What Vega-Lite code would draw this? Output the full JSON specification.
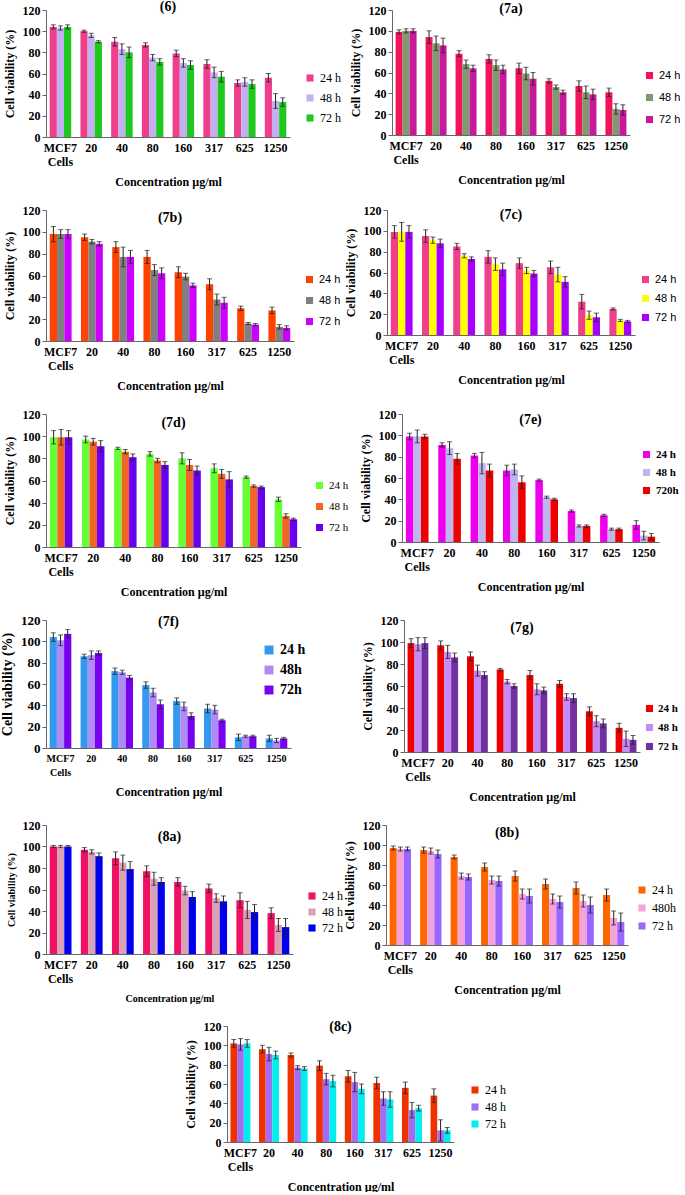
{
"$schema":"https://vega.github.io/schema/vega-lite/v6.json",
"background":"white",
"padding":{"left":0,"top":0,"right":0,"bottom":0},
"datasets":{
"p6":[
{"c":"MCF7","t":"24 h","v":104,"lo":102,"hi":106},{"c":"MCF7","t":"48 h","v":103,"lo":101,"hi":105},{"c":"MCF7","t":"72 h","v":104,"lo":102,"hi":106},
{"c":"20","t":"24 h","v":100,"lo":99,"hi":101},{"c":"20","t":"48 h","v":96,"lo":94,"hi":98},{"c":"20","t":"72 h","v":90,"lo":89,"hi":91},
{"c":"40","t":"24 h","v":90,"lo":86,"hi":94},{"c":"40","t":"48 h","v":83,"lo":78,"hi":88},{"c":"40","t":"72 h","v":80,"lo":75,"hi":85},
{"c":"80","t":"24 h","v":87,"lo":85,"hi":89},{"c":"80","t":"48 h","v":75,"lo":72,"hi":78},{"c":"80","t":"72 h","v":71,"lo":68,"hi":74},
{"c":"160","t":"24 h","v":79,"lo":76,"hi":82},{"c":"160","t":"48 h","v":70,"lo":66,"hi":74},{"c":"160","t":"72 h","v":68,"lo":64,"hi":72},
{"c":"317","t":"24 h","v":69,"lo":65,"hi":73},{"c":"317","t":"48 h","v":61,"lo":56,"hi":66},{"c":"317","t":"72 h","v":57,"lo":52,"hi":62},
{"c":"625","t":"24 h","v":51,"lo":48,"hi":54},{"c":"625","t":"48 h","v":52,"lo":48,"hi":56},{"c":"625","t":"72 h","v":50,"lo":46,"hi":54},
{"c":"1250","t":"24 h","v":56,"lo":52,"hi":60},{"c":"1250","t":"48 h","v":34,"lo":27,"hi":41},{"c":"1250","t":"72 h","v":33,"lo":29,"hi":37}],
"p7a":[
{"c":"MCF7","t":"24 h","v":99,"lo":97,"hi":101},{"c":"MCF7","t":"48 h","v":100,"lo":98,"hi":102},{"c":"MCF7","t":"72 h","v":100,"lo":98,"hi":102},
{"c":"20","t":"24 h","v":94,"lo":88,"hi":100},{"c":"20","t":"48 h","v":88,"lo":81,"hi":95},{"c":"20","t":"72 h","v":86,"lo":79,"hi":93},
{"c":"40","t":"24 h","v":78,"lo":75,"hi":81},{"c":"40","t":"48 h","v":68,"lo":64,"hi":72},{"c":"40","t":"72 h","v":64,"lo":61,"hi":67},
{"c":"80","t":"24 h","v":73,"lo":69,"hi":77},{"c":"80","t":"48 h","v":67,"lo":62,"hi":72},{"c":"80","t":"72 h","v":63,"lo":59,"hi":67},
{"c":"160","t":"24 h","v":64,"lo":59,"hi":69},{"c":"160","t":"48 h","v":59,"lo":53,"hi":65},{"c":"160","t":"72 h","v":54,"lo":48,"hi":60},
{"c":"317","t":"24 h","v":52,"lo":50,"hi":54},{"c":"317","t":"48 h","v":46,"lo":44,"hi":48},{"c":"317","t":"72 h","v":41,"lo":39,"hi":43},
{"c":"625","t":"24 h","v":47,"lo":42,"hi":52},{"c":"625","t":"48 h","v":41,"lo":35,"hi":47},{"c":"625","t":"72 h","v":39,"lo":34,"hi":44},
{"c":"1250","t":"24 h","v":41,"lo":37,"hi":45},{"c":"1250","t":"48 h","v":25,"lo":20,"hi":30},{"c":"1250","t":"72 h","v":24,"lo":19,"hi":29}],
"p7b":[
{"c":"MCF7","t":"24 h","v":98,"lo":91,"hi":105},{"c":"MCF7","t":"48 h","v":98,"lo":94,"hi":102},{"c":"MCF7","t":"72 h","v":98,"lo":94,"hi":102},
{"c":"20","t":"24 h","v":95,"lo":92,"hi":98},{"c":"20","t":"48 h","v":91,"lo":89,"hi":93},{"c":"20","t":"72 h","v":89,"lo":87,"hi":91},
{"c":"40","t":"24 h","v":86,"lo":81,"hi":91},{"c":"40","t":"48 h","v":77,"lo":68,"hi":86},{"c":"40","t":"72 h","v":77,"lo":71,"hi":83},
{"c":"80","t":"24 h","v":77,"lo":71,"hi":83},{"c":"80","t":"48 h","v":65,"lo":60,"hi":70},{"c":"80","t":"72 h","v":62,"lo":57,"hi":67},
{"c":"160","t":"24 h","v":63,"lo":58,"hi":68},{"c":"160","t":"48 h","v":59,"lo":56,"hi":62},{"c":"160","t":"72 h","v":51,"lo":49,"hi":53},
{"c":"317","t":"24 h","v":52,"lo":47,"hi":57},{"c":"317","t":"48 h","v":38,"lo":33,"hi":43},{"c":"317","t":"72 h","v":35,"lo":30,"hi":40},
{"c":"625","t":"24 h","v":30,"lo":28,"hi":32},{"c":"625","t":"48 h","v":16,"lo":15,"hi":17},{"c":"625","t":"72 h","v":15,"lo":14,"hi":16},
{"c":"1250","t":"24 h","v":28,"lo":25,"hi":31},{"c":"1250","t":"48 h","v":13,"lo":11,"hi":15},{"c":"1250","t":"72 h","v":12,"lo":10,"hi":14}],
"p7c":[
{"c":"MCF7","t":"24 h","v":99,"lo":93,"hi":105},{"c":"MCF7","t":"48 h","v":99,"lo":90,"hi":108},{"c":"MCF7","t":"72 h","v":99,"lo":93,"hi":105},
{"c":"20","t":"24 h","v":95,"lo":89,"hi":101},{"c":"20","t":"48 h","v":91,"lo":88,"hi":94},{"c":"20","t":"72 h","v":88,"lo":84,"hi":92},
{"c":"40","t":"24 h","v":85,"lo":82,"hi":88},{"c":"40","t":"48 h","v":76,"lo":74,"hi":78},{"c":"40","t":"72 h","v":73,"lo":71,"hi":75},
{"c":"80","t":"24 h","v":75,"lo":69,"hi":81},{"c":"80","t":"48 h","v":68,"lo":62,"hi":74},{"c":"80","t":"72 h","v":63,"lo":57,"hi":69},
{"c":"160","t":"24 h","v":69,"lo":64,"hi":74},{"c":"160","t":"48 h","v":62,"lo":59,"hi":65},{"c":"160","t":"72 h","v":59,"lo":56,"hi":62},
{"c":"317","t":"24 h","v":65,"lo":59,"hi":71},{"c":"317","t":"48 h","v":58,"lo":51,"hi":65},{"c":"317","t":"72 h","v":51,"lo":46,"hi":56},
{"c":"625","t":"24 h","v":32,"lo":25,"hi":39},{"c":"625","t":"48 h","v":19,"lo":15,"hi":23},{"c":"625","t":"72 h","v":17,"lo":13,"hi":21},
{"c":"1250","t":"24 h","v":25,"lo":24,"hi":26},{"c":"1250","t":"48 h","v":14,"lo":13,"hi":15},{"c":"1250","t":"72 h","v":13,"lo":12,"hi":14}],
"p7d":[
{"c":"MCF7","t":"24 h","v":99,"lo":93,"hi":105},{"c":"MCF7","t":"48 h","v":99,"lo":92,"hi":106},{"c":"MCF7","t":"72 h","v":99,"lo":93,"hi":105},
{"c":"20","t":"24 h","v":97,"lo":94,"hi":100},{"c":"20","t":"48 h","v":95,"lo":92,"hi":98},{"c":"20","t":"72 h","v":91,"lo":86,"hi":96},
{"c":"40","t":"24 h","v":89,"lo":88,"hi":90},{"c":"40","t":"48 h","v":86,"lo":84,"hi":88},{"c":"40","t":"72 h","v":81,"lo":78,"hi":84},
{"c":"80","t":"24 h","v":84,"lo":82,"hi":86},{"c":"80","t":"48 h","v":78,"lo":76,"hi":80},{"c":"80","t":"72 h","v":74,"lo":71,"hi":77},
{"c":"160","t":"24 h","v":80,"lo":75,"hi":85},{"c":"160","t":"48 h","v":74,"lo":69,"hi":79},{"c":"160","t":"72 h","v":69,"lo":65,"hi":73},
{"c":"317","t":"24 h","v":71,"lo":67,"hi":75},{"c":"317","t":"48 h","v":66,"lo":62,"hi":70},{"c":"317","t":"72 h","v":61,"lo":54,"hi":68},
{"c":"625","t":"24 h","v":63,"lo":62,"hi":64},{"c":"625","t":"48 h","v":55,"lo":54,"hi":56},{"c":"625","t":"72 h","v":54,"lo":53,"hi":55},
{"c":"1250","t":"24 h","v":43,"lo":41,"hi":45},{"c":"1250","t":"48 h","v":28,"lo":26,"hi":30},{"c":"1250","t":"72 h","v":25,"lo":24,"hi":26}],
"p7e":[
{"c":"MCF7","t":"24 h","v":99,"lo":96,"hi":102},{"c":"MCF7","t":"48 h","v":99,"lo":93,"hi":105},{"c":"MCF7","t":"720h","v":99,"lo":97,"hi":101},
{"c":"20","t":"24 h","v":91,"lo":89,"hi":93},{"c":"20","t":"48 h","v":88,"lo":82,"hi":94},{"c":"20","t":"720h","v":78,"lo":73,"hi":83},
{"c":"40","t":"24 h","v":81,"lo":79,"hi":83},{"c":"40","t":"48 h","v":74,"lo":64,"hi":84},{"c":"40","t":"720h","v":67,"lo":61,"hi":73},
{"c":"80","t":"24 h","v":67,"lo":62,"hi":72},{"c":"80","t":"48 h","v":68,"lo":63,"hi":73},{"c":"80","t":"720h","v":56,"lo":50,"hi":62},
{"c":"160","t":"24 h","v":58,"lo":57,"hi":59},{"c":"160","t":"48 h","v":42,"lo":41,"hi":43},{"c":"160","t":"720h","v":40,"lo":39,"hi":41},
{"c":"317","t":"24 h","v":29,"lo":28,"hi":30},{"c":"317","t":"48 h","v":15,"lo":14,"hi":16},{"c":"317","t":"720h","v":15,"lo":14,"hi":16},
{"c":"625","t":"24 h","v":25,"lo":24,"hi":26},{"c":"625","t":"48 h","v":12,"lo":11,"hi":13},{"c":"625","t":"720h","v":12,"lo":11,"hi":13},
{"c":"1250","t":"24 h","v":16,"lo":12,"hi":20},{"c":"1250","t":"48 h","v":6,"lo":2,"hi":10},{"c":"1250","t":"720h","v":5,"lo":2,"hi":8}],
"p7f":[
{"c":"MCF7","t":"24 h","v":104,"lo":100,"hi":108},{"c":"MCF7","t":"48h","v":101,"lo":96,"hi":106},{"c":"MCF7","t":"72h","v":107,"lo":103,"hi":111},
{"c":"20","t":"24 h","v":86,"lo":84,"hi":88},{"c":"20","t":"48h","v":87,"lo":83,"hi":91},{"c":"20","t":"72h","v":89,"lo":87,"hi":91},
{"c":"40","t":"24 h","v":72,"lo":69,"hi":75},{"c":"40","t":"48h","v":71,"lo":69,"hi":73},{"c":"40","t":"72h","v":66,"lo":64,"hi":68},
{"c":"80","t":"24 h","v":59,"lo":56,"hi":62},{"c":"80","t":"48h","v":52,"lo":48,"hi":56},{"c":"80","t":"72h","v":41,"lo":37,"hi":45},
{"c":"160","t":"24 h","v":44,"lo":41,"hi":47},{"c":"160","t":"48h","v":39,"lo":35,"hi":43},{"c":"160","t":"72h","v":30,"lo":27,"hi":33},
{"c":"317","t":"24 h","v":37,"lo":33,"hi":41},{"c":"317","t":"48h","v":36,"lo":32,"hi":40},{"c":"317","t":"72h","v":26,"lo":25,"hi":27},
{"c":"625","t":"24 h","v":10,"lo":7,"hi":13},{"c":"625","t":"48h","v":11,"lo":10,"hi":12},{"c":"625","t":"72h","v":11,"lo":10,"hi":12},
{"c":"1250","t":"24 h","v":9,"lo":6,"hi":12},{"c":"1250","t":"48h","v":7,"lo":5,"hi":9},{"c":"1250","t":"72h","v":9,"lo":8,"hi":10}],
"p7g":[
{"c":"MCF7","t":"24 h","v":99,"lo":95,"hi":103},{"c":"MCF7","t":"48 h","v":98,"lo":92,"hi":104},{"c":"MCF7","t":"72 h","v":99,"lo":94,"hi":104},
{"c":"20","t":"24 h","v":97,"lo":93,"hi":101},{"c":"20","t":"48 h","v":91,"lo":85,"hi":97},{"c":"20","t":"72 h","v":86,"lo":82,"hi":90},
{"c":"40","t":"24 h","v":87,"lo":83,"hi":91},{"c":"40","t":"48 h","v":74,"lo":69,"hi":79},{"c":"40","t":"72 h","v":70,"lo":67,"hi":73},
{"c":"80","t":"24 h","v":75,"lo":74,"hi":76},{"c":"80","t":"48 h","v":64,"lo":62,"hi":66},{"c":"80","t":"72 h","v":60,"lo":58,"hi":62},
{"c":"160","t":"24 h","v":70,"lo":66,"hi":74},{"c":"160","t":"48 h","v":57,"lo":52,"hi":62},{"c":"160","t":"72 h","v":56,"lo":53,"hi":59},
{"c":"317","t":"24 h","v":62,"lo":59,"hi":65},{"c":"317","t":"48 h","v":50,"lo":47,"hi":53},{"c":"317","t":"72 h","v":49,"lo":45,"hi":53},
{"c":"625","t":"24 h","v":37,"lo":33,"hi":41},{"c":"625","t":"48 h","v":28,"lo":23,"hi":33},{"c":"625","t":"72 h","v":26,"lo":22,"hi":30},
{"c":"1250","t":"24 h","v":22,"lo":18,"hi":26},{"c":"1250","t":"48 h","v":12,"lo":5,"hi":19},{"c":"1250","t":"72 h","v":11,"lo":7,"hi":15}],
"p8a":[
{"c":"MCF7","t":"24 h","v":100,"lo":99,"hi":101},{"c":"MCF7","t":"48 h","v":100,"lo":99,"hi":101},{"c":"MCF7","t":"72 h","v":100,"lo":99,"hi":101},
{"c":"20","t":"24 h","v":97,"lo":95,"hi":99},{"c":"20","t":"48 h","v":95,"lo":93,"hi":97},{"c":"20","t":"72 h","v":91,"lo":88,"hi":94},
{"c":"40","t":"24 h","v":89,"lo":83,"hi":95},{"c":"40","t":"48 h","v":85,"lo":78,"hi":92},{"c":"40","t":"72 h","v":79,"lo":72,"hi":86},
{"c":"80","t":"24 h","v":77,"lo":72,"hi":82},{"c":"80","t":"48 h","v":70,"lo":64,"hi":76},{"c":"80","t":"72 h","v":67,"lo":63,"hi":71},
{"c":"160","t":"24 h","v":67,"lo":63,"hi":71},{"c":"160","t":"48 h","v":59,"lo":55,"hi":63},{"c":"160","t":"72 h","v":53,"lo":48,"hi":58},
{"c":"317","t":"24 h","v":61,"lo":57,"hi":65},{"c":"317","t":"48 h","v":52,"lo":48,"hi":56},{"c":"317","t":"72 h","v":49,"lo":44,"hi":54},
{"c":"625","t":"24 h","v":50,"lo":43,"hi":57},{"c":"625","t":"48 h","v":41,"lo":33,"hi":49},{"c":"625","t":"72 h","v":39,"lo":32,"hi":46},
{"c":"1250","t":"24 h","v":38,"lo":33,"hi":43},{"c":"1250","t":"48 h","v":27,"lo":21,"hi":33},{"c":"1250","t":"72 h","v":25,"lo":17,"hi":33}],
"p8b":[
{"c":"MCF7","t":"24 h","v":97,"lo":95,"hi":99},{"c":"MCF7","t":"480h","v":96,"lo":94,"hi":98},{"c":"MCF7","t":"72 h","v":96,"lo":94,"hi":98},
{"c":"20","t":"24 h","v":95,"lo":92,"hi":98},{"c":"20","t":"480h","v":94,"lo":91,"hi":97},{"c":"20","t":"72 h","v":91,"lo":87,"hi":95},
{"c":"40","t":"24 h","v":88,"lo":86,"hi":90},{"c":"40","t":"480h","v":69,"lo":66,"hi":72},{"c":"40","t":"72 h","v":68,"lo":65,"hi":71},
{"c":"80","t":"24 h","v":78,"lo":74,"hi":82},{"c":"80","t":"480h","v":65,"lo":61,"hi":69},{"c":"80","t":"72 h","v":64,"lo":59,"hi":69},
{"c":"160","t":"24 h","v":69,"lo":64,"hi":74},{"c":"160","t":"480h","v":51,"lo":46,"hi":56},{"c":"160","t":"72 h","v":49,"lo":42,"hi":56},
{"c":"317","t":"24 h","v":61,"lo":56,"hi":66},{"c":"317","t":"480h","v":46,"lo":41,"hi":51},{"c":"317","t":"72 h","v":43,"lo":37,"hi":49},
{"c":"625","t":"24 h","v":57,"lo":51,"hi":63},{"c":"625","t":"480h","v":44,"lo":38,"hi":50},{"c":"625","t":"72 h","v":40,"lo":32,"hi":48},
{"c":"1250","t":"24 h","v":50,"lo":44,"hi":56},{"c":"1250","t":"480h","v":27,"lo":20,"hi":34},{"c":"1250","t":"72 h","v":23,"lo":14,"hi":32}],
"p8c":[
{"c":"MCF7","t":"24 h","v":102,"lo":98,"hi":106},{"c":"MCF7","t":"48 h","v":101,"lo":95,"hi":107},{"c":"MCF7","t":"72 h","v":102,"lo":98,"hi":106},
{"c":"20","t":"24 h","v":96,"lo":92,"hi":100},{"c":"20","t":"48 h","v":91,"lo":84,"hi":98},{"c":"20","t":"72 h","v":90,"lo":86,"hi":94},
{"c":"40","t":"24 h","v":90,"lo":88,"hi":92},{"c":"40","t":"48 h","v":77,"lo":75,"hi":79},{"c":"40","t":"72 h","v":76,"lo":74,"hi":78},
{"c":"80","t":"24 h","v":79,"lo":74,"hi":84},{"c":"80","t":"48 h","v":65,"lo":59,"hi":71},{"c":"80","t":"72 h","v":63,"lo":57,"hi":69},
{"c":"160","t":"24 h","v":68,"lo":62,"hi":74},{"c":"160","t":"48 h","v":62,"lo":52,"hi":72},{"c":"160","t":"72 h","v":55,"lo":50,"hi":60},
{"c":"317","t":"24 h","v":61,"lo":55,"hi":67},{"c":"317","t":"48 h","v":45,"lo":38,"hi":52},{"c":"317","t":"72 h","v":44,"lo":36,"hi":52},
{"c":"625","t":"24 h","v":56,"lo":50,"hi":62},{"c":"625","t":"48 h","v":33,"lo":25,"hi":41},{"c":"625","t":"72 h","v":35,"lo":32,"hi":38},
{"c":"1250","t":"24 h","v":48,"lo":41,"hi":55},{"c":"1250","t":"48 h","v":12,"lo":1,"hi":23},{"c":"1250","t":"72 h","v":12,"lo":9,"hi":15}]
},
"vconcat":[
{"hconcat":[
{"data":{"name":"p6"},"width":244,"height":127,"title":{"text":"(6)","offset":-10},
"encoding":{"x":{"field":"c","type":"nominal","sort":["MCF7","20","40","80","160","317","625","1250"],"title":"Concentration µg/ml","scale":{"paddingInner":0.3,"paddingOuter":0.12},"axis":{"labelExpr":"datum.value == 'MCF7' ? ['MCF7','Cells'] : datum.value"}},"xOffset":{"field":"t","type":"nominal"}},
"layer":[
{"mark":"bar","encoding":{"y":{"field":"v","type":"quantitative","title":"Cell viability  (%)","scale":{"domain":[0,120]}},"color":{"field":"t","type":"nominal","scale":{"domain":["24 h","48 h","72 h"],"range":["#ee3f8c","#c2b0f0","#1ec81e"]},"legend":{"orient":"none","legendX":258,"legendY":62,"labelFont":"Liberation Serif","labelFontSize":12,"rowPadding":8}}}},
{"mark":{"type":"rule","color":"#222","strokeWidth":1},"encoding":{"y":{"field":"lo","type":"quantitative","title":"Cell viability  (%)"},"y2":{"field":"hi"}}},
{"mark":{"type":"tick","color":"#222","size":5,"thickness":1},"encoding":{"y":{"field":"lo","type":"quantitative","title":"Cell viability  (%)"}}},
{"mark":{"type":"tick","color":"#222","size":5,"thickness":1},"encoding":{"y":{"field":"hi","type":"quantitative","title":"Cell viability  (%)"}}}]},
{"data":{"name":"p7a"},"width":238,"height":125,"title":{"text":"(7a)","offset":-12},
"encoding":{"x":{"field":"c","type":"nominal","sort":["MCF7","20","40","80","160","317","625","1250"],"title":"Concentration µg/ml","scale":{"paddingInner":0.3,"paddingOuter":0.12},"axis":{"labelExpr":"datum.value == 'MCF7' ? ['MCF7','Cells'] : datum.value"}},"xOffset":{"field":"t","type":"nominal"}},
"layer":[
{"mark":"bar","encoding":{"y":{"field":"v","type":"quantitative","title":"Cell viability  (%)","scale":{"domain":[0,120]}},"color":{"field":"t","type":"nominal","scale":{"domain":["24 h","48 h","72 h"],"range":["#f0145a","#7f9a70","#c8189c"]},"legend":{"orient":"none","legendX":252,"legendY":60,"labelFont":"Liberation Sans","labelFontSize":11,"rowPadding":10}}}},
{"mark":{"type":"rule","color":"#222","strokeWidth":1},"encoding":{"y":{"field":"lo","type":"quantitative","title":"Cell viability  (%)"},"y2":{"field":"hi"}}},
{"mark":{"type":"tick","color":"#222","size":5,"thickness":1},"encoding":{"y":{"field":"lo","type":"quantitative","title":"Cell viability  (%)"}}},
{"mark":{"type":"tick","color":"#222","size":5,"thickness":1},"encoding":{"y":{"field":"hi","type":"quantitative","title":"Cell viability  (%)"}}}]}
],"spacing":8,"resolve":{"scale":{"color":"independent","x":"independent","y":"independent","xOffset":"independent"}}},
{"hconcat":[
{"data":{"name":"p7b"},"width":248,"height":131,"title":{"text":"(7b)","offset":-21},
"encoding":{"x":{"field":"c","type":"nominal","sort":["MCF7","20","40","80","160","317","625","1250"],"title":"Concentration µg/ml","scale":{"paddingInner":0.3,"paddingOuter":0.12},"axis":{"labelExpr":"datum.value == 'MCF7' ? ['MCF7','Cells'] : datum.value"}},"xOffset":{"field":"t","type":"nominal"}},
"layer":[
{"mark":"bar","encoding":{"y":{"field":"v","type":"quantitative","title":"Cell viability  (%)","scale":{"domain":[0,120]}},"color":{"field":"t","type":"nominal","scale":{"domain":["24 h","48 h","72 h"],"range":["#ff4200","#808080","#cc00ff"]},"legend":{"orient":"none","legendX":258,"legendY":64,"labelFont":"Liberation Sans","labelFontSize":11,"rowPadding":9}}}},
{"mark":{"type":"rule","color":"#222","strokeWidth":1},"encoding":{"y":{"field":"lo","type":"quantitative","title":"Cell viability  (%)"},"y2":{"field":"hi"}}},
{"mark":{"type":"tick","color":"#222","size":5,"thickness":1},"encoding":{"y":{"field":"lo","type":"quantitative","title":"Cell viability  (%)"}}},
{"mark":{"type":"tick","color":"#222","size":5,"thickness":1},"encoding":{"y":{"field":"hi","type":"quantitative","title":"Cell viability  (%)"}}}]},
{"data":{"name":"p7c"},"width":248,"height":125,"title":{"text":"(7c)","offset":-18},
"encoding":{"x":{"field":"c","type":"nominal","sort":["MCF7","20","40","80","160","317","625","1250"],"title":"Concentration µg/ml","scale":{"paddingInner":0.3,"paddingOuter":0.12},"axis":{"labelExpr":"datum.value == 'MCF7' ? ['MCF7','Cells'] : datum.value"}},"xOffset":{"field":"t","type":"nominal"}},
"layer":[
{"mark":"bar","encoding":{"y":{"field":"v","type":"quantitative","title":"Cell viability  (%)","scale":{"domain":[0,120]}},"color":{"field":"t","type":"nominal","scale":{"domain":["24 h","48 h","72 h"],"range":["#f0408c","#ffff00","#a800ff"]},"legend":{"orient":"none","legendX":253,"legendY":64,"labelFont":"Liberation Sans","labelFontSize":11,"rowPadding":7}}}},
{"mark":{"type":"rule","color":"#222","strokeWidth":1},"encoding":{"y":{"field":"lo","type":"quantitative","title":"Cell viability  (%)"},"y2":{"field":"hi"}}},
{"mark":{"type":"tick","color":"#222","size":5,"thickness":1},"encoding":{"y":{"field":"lo","type":"quantitative","title":"Cell viability  (%)"}}},
{"mark":{"type":"tick","color":"#222","size":5,"thickness":1},"encoding":{"y":{"field":"hi","type":"quantitative","title":"Cell viability  (%)"}}}]}
],"spacing":3,"resolve":{"scale":{"color":"independent","x":"independent","y":"independent","xOffset":"independent"}}},
{"hconcat":[
{"data":{"name":"p7d"},"width":255,"height":133,"title":{"text":"(7d)","offset":-22},
"encoding":{"x":{"field":"c","type":"nominal","sort":["MCF7","20","40","80","160","317","625","1250"],"title":"Concentration µg/ml","scale":{"paddingInner":0.3,"paddingOuter":0.12},"axis":{"labelExpr":"datum.value == 'MCF7' ? ['MCF7','Cells'] : datum.value"}},"xOffset":{"field":"t","type":"nominal"}},
"layer":[
{"mark":"bar","encoding":{"y":{"field":"v","type":"quantitative","title":"Cell viability  (%)","scale":{"domain":[0,120]}},"color":{"field":"t","type":"nominal","scale":{"domain":["24 h","48 h","72 h"],"range":["#66ff33","#f26524","#6600ee"]},"legend":{"orient":"none","legendX":268,"legendY":66,"labelFont":"Liberation Serif","labelFontSize":11,"rowPadding":9}}}},
{"mark":{"type":"rule","color":"#222","strokeWidth":1},"encoding":{"y":{"field":"lo","type":"quantitative","title":"Cell viability  (%)"},"y2":{"field":"hi"}}},
{"mark":{"type":"tick","color":"#222","size":5,"thickness":1},"encoding":{"y":{"field":"lo","type":"quantitative","title":"Cell viability  (%)"}}},
{"mark":{"type":"tick","color":"#222","size":5,"thickness":1},"encoding":{"y":{"field":"hi","type":"quantitative","title":"Cell viability  (%)"}}}]},
{"data":{"name":"p7e"},"width":257,"height":128,"title":{"text":"(7e)","offset":-19},
"encoding":{"x":{"field":"c","type":"nominal","sort":["MCF7","20","40","80","160","317","625","1250"],"title":"Concentration µg/ml","scale":{"paddingInner":0.3,"paddingOuter":0.12},"axis":{"labelExpr":"datum.value == 'MCF7' ? ['MCF7','Cells'] : datum.value"}},"xOffset":{"field":"t","type":"nominal"}},
"layer":[
{"mark":"bar","encoding":{"y":{"field":"v","type":"quantitative","title":"Cell viability  (%)","scale":{"domain":[0,120]}},"color":{"field":"t","type":"nominal","scale":{"domain":["24 h","48 h","720h"],"range":["#ee00ee","#c0b6ef","#ee0000"]},"legend":{"orient":"none","legendX":239,"legendY":35,"labelFont":"Liberation Serif","labelFontSize":11,"labelFontWeight":"bold","rowPadding":6}}}},
{"mark":{"type":"rule","color":"#222","strokeWidth":1},"encoding":{"y":{"field":"lo","type":"quantitative","title":"Cell viability  (%)"},"y2":{"field":"hi"}}},
{"mark":{"type":"tick","color":"#222","size":5,"thickness":1},"encoding":{"y":{"field":"lo","type":"quantitative","title":"Cell viability  (%)"}}},
{"mark":{"type":"tick","color":"#222","size":5,"thickness":1},"encoding":{"y":{"field":"hi","type":"quantitative","title":"Cell viability  (%)"}}}]}
],"spacing":10,"resolve":{"scale":{"color":"independent","x":"independent","y":"independent","xOffset":"independent"}}},
{"hconcat":[
{"data":{"name":"p7f"},"width":245,"height":128,"title":{"text":"(7f)","offset":-15},
"encoding":{"x":{"field":"c","type":"nominal","sort":["MCF7","20","40","80","160","317","625","1250"],"title":"Concentration µg/ml","scale":{"paddingInner":0.3,"paddingOuter":0.12},"axis":{"labelFontSize":10,"labelExpr":"datum.value == 'MCF7' ? ['MCF7','Cells'] : datum.value"}},"xOffset":{"field":"t","type":"nominal"}},
"layer":[
{"mark":"bar","encoding":{"y":{"field":"v","type":"quantitative","title":"Cell viability (%)","scale":{"domain":[0,120]},"axis":{"titleFontSize":14,"labelFontSize":13}},"color":{"field":"t","type":"nominal","scale":{"domain":["24 h","48h","72h"],"range":["#3399ee","#b08af5","#7700ee"]},"legend":{"orient":"none","legendX":216,"legendY":23,"labelFont":"Liberation Serif","labelFontSize":14,"labelFontWeight":"bold","rowPadding":6,"symbolSize":80}}}},
{"mark":{"type":"rule","color":"#222","strokeWidth":1},"encoding":{"y":{"field":"lo","type":"quantitative","title":"Cell viability (%)"},"y2":{"field":"hi"}}},
{"mark":{"type":"tick","color":"#222","size":5,"thickness":1},"encoding":{"y":{"field":"lo","type":"quantitative","title":"Cell viability (%)"}}},
{"mark":{"type":"tick","color":"#222","size":5,"thickness":1},"encoding":{"y":{"field":"hi","type":"quantitative","title":"Cell viability (%)"}}}]},
{"data":{"name":"p7g"},"width":236,"height":132,"title":{"text":"(7g)","offset":-21},
"encoding":{"x":{"field":"c","type":"nominal","sort":["MCF7","20","40","80","160","317","625","1250"],"title":"Concentration µg/ml","scale":{"paddingInner":0.3,"paddingOuter":0.12},"axis":{"labelExpr":"datum.value == 'MCF7' ? ['MCF7','Cells'] : datum.value"}},"xOffset":{"field":"t","type":"nominal"}},
"layer":[
{"mark":"bar","encoding":{"y":{"field":"v","type":"quantitative","title":"Cell viability  (%)","scale":{"domain":[0,120]}},"color":{"field":"t","type":"nominal","scale":{"domain":["24 h","48 h","72 h"],"range":["#ee0000","#c58af5","#7030a0"]},"legend":{"orient":"none","legendX":240,"legendY":83,"labelFont":"Liberation Serif","labelFontSize":11,"labelFontWeight":"bold","rowPadding":7,"labelOffset":3}}}},
{"mark":{"type":"rule","color":"#222","strokeWidth":1},"encoding":{"y":{"field":"lo","type":"quantitative","title":"Cell viability  (%)"},"y2":{"field":"hi"}}},
{"mark":{"type":"tick","color":"#222","size":5,"thickness":1},"encoding":{"y":{"field":"lo","type":"quantitative","title":"Cell viability  (%)"}}},
{"mark":{"type":"tick","color":"#222","size":5,"thickness":1},"encoding":{"y":{"field":"hi","type":"quantitative","title":"Cell viability  (%)"}}}]}
],"spacing":55,"resolve":{"scale":{"color":"independent","x":"independent","y":"independent","xOffset":"independent"}}},
{"hconcat":[
{"data":{"name":"p8a"},"width":247,"height":129,"title":{"text":"(8a)","offset":-25},
"encoding":{"x":{"field":"c","type":"nominal","sort":["MCF7","20","40","80","160","317","625","1250"],"title":"Concentration µg/ml","scale":{"paddingInner":0.3,"paddingOuter":0.12},"axis":{"titleFontSize":10,"labelExpr":"datum.value == 'MCF7' ? ['MCF7','Cells'] : datum.value"}},"xOffset":{"field":"t","type":"nominal"}},
"layer":[
{"mark":"bar","encoding":{"y":{"field":"v","type":"quantitative","title":"Cell viability (%)","scale":{"domain":[0,120]},"axis":{"titleFontSize":10}},"color":{"field":"t","type":"nominal","scale":{"domain":["24 h","48 h","72 h"],"range":["#ee1166","#d9a3b3","#0000ee"]},"legend":{"orient":"none","legendX":260,"legendY":65,"labelFont":"Liberation Serif","labelFontSize":12,"rowPadding":4}}}},
{"mark":{"type":"rule","color":"#222","strokeWidth":1},"encoding":{"y":{"field":"lo","type":"quantitative","title":"Cell viability (%)"},"y2":{"field":"hi"}}},
{"mark":{"type":"tick","color":"#222","size":5,"thickness":1},"encoding":{"y":{"field":"lo","type":"quantitative","title":"Cell viability (%)"}}},
{"mark":{"type":"tick","color":"#222","size":5,"thickness":1},"encoding":{"y":{"field":"hi","type":"quantitative","title":"Cell viability (%)"}}}]},
{"data":{"name":"p8b"},"width":242,"height":120,"title":{"text":"(8b)","offset":-21},
"encoding":{"x":{"field":"c","type":"nominal","sort":["MCF7","20","40","80","160","317","625","1250"],"title":"Concentration µg/ml","scale":{"paddingInner":0.3,"paddingOuter":0.12},"axis":{"labelExpr":"datum.value == 'MCF7' ? ['MCF7','Cells'] : datum.value"}},"xOffset":{"field":"t","type":"nominal"}},
"layer":[
{"mark":"bar","encoding":{"y":{"field":"v","type":"quantitative","title":"Cell viability  (%)","scale":{"domain":[0,120]}},"color":{"field":"t","type":"nominal","scale":{"domain":["24 h","480h","72 h"],"range":["#ff6600","#f5a3dc","#9966ff"]},"legend":{"orient":"none","legendX":250,"legendY":59,"labelFont":"Liberation Serif","labelFontSize":12,"rowPadding":6}}}},
{"mark":{"type":"rule","color":"#222","strokeWidth":1},"encoding":{"y":{"field":"lo","type":"quantitative","title":"Cell viability  (%)"},"y2":{"field":"hi"}}},
{"mark":{"type":"tick","color":"#222","size":5,"thickness":1},"encoding":{"y":{"field":"lo","type":"quantitative","title":"Cell viability  (%)"}}},
{"mark":{"type":"tick","color":"#222","size":5,"thickness":1},"encoding":{"y":{"field":"hi","type":"quantitative","title":"Cell viability  (%)"}}}]}
],"spacing":0,"resolve":{"scale":{"color":"independent","x":"independent","y":"independent","xOffset":"independent"}}},
{"hconcat":[
{"data":{"values":[]},"mark":"rect","width":138,"height":10},
{"data":{"name":"p8c"},"width":227,"height":116,"title":{"text":"(8c)","offset":-14},
"encoding":{"x":{"field":"c","type":"nominal","sort":["MCF7","20","40","80","160","317","625","1250"],"title":"Concentration µg/ml","scale":{"paddingInner":0.3,"paddingOuter":0.12},"axis":{"labelExpr":"datum.value == 'MCF7' ? ['MCF7','Cells'] : datum.value"}},"xOffset":{"field":"t","type":"nominal"}},
"layer":[
{"mark":"bar","encoding":{"y":{"field":"v","type":"quantitative","title":"Cell viability  (%)","scale":{"domain":[0,120]}},"color":{"field":"t","type":"nominal","scale":{"domain":["24 h","48 h","72 h"],"range":["#ee3300","#a46cf0","#00eeee"]},"legend":{"orient":"none","legendX":242,"legendY":58,"labelFont":"Liberation Serif","labelFontSize":12,"rowPadding":5}}}},
{"mark":{"type":"rule","color":"#222","strokeWidth":1},"encoding":{"y":{"field":"lo","type":"quantitative","title":"Cell viability  (%)"},"y2":{"field":"hi"}}},
{"mark":{"type":"tick","color":"#222","size":5,"thickness":1},"encoding":{"y":{"field":"lo","type":"quantitative","title":"Cell viability  (%)"}}},
{"mark":{"type":"tick","color":"#222","size":5,"thickness":1},"encoding":{"y":{"field":"hi","type":"quantitative","title":"Cell viability  (%)"}}}]}
],"spacing":0,"resolve":{"scale":{"color":"independent","x":"independent","y":"independent","xOffset":"independent"}}}
],
"spacing":17,
"resolve":{"scale":{"color":"independent","x":"independent","y":"independent","xOffset":"independent"}},
"config":{
"view":{"stroke":null},
"font":"Liberation Serif",
"axis":{"labelFont":"Liberation Serif","labelFontWeight":"bold","labelFontSize":12,"labelColor":"#000","titleFont":"Liberation Serif","titleFontWeight":"bold","titleFontSize":12,"titleColor":"#000","domainColor":"#666","tickColor":"#666","grid":false},
"axisX":{"ticks":false,"labelAngle":0,"labelPadding":5,"titlePadding":9,"labelLineHeight":14},
"axisY":{"tickCount":6,"titlePadding":6,"labelPadding":2,"tickSize":4},
"title":{"font":"Liberation Serif","fontSize":14,"fontWeight":"bold","color":"#000","frame":"group","anchor":"middle"},
"legend":{"title":null,"symbolType":"square","symbolSize":50,"symbolStrokeWidth":0,"labelColor":"#000","padding":0,"labelOffset":4}
}
}
